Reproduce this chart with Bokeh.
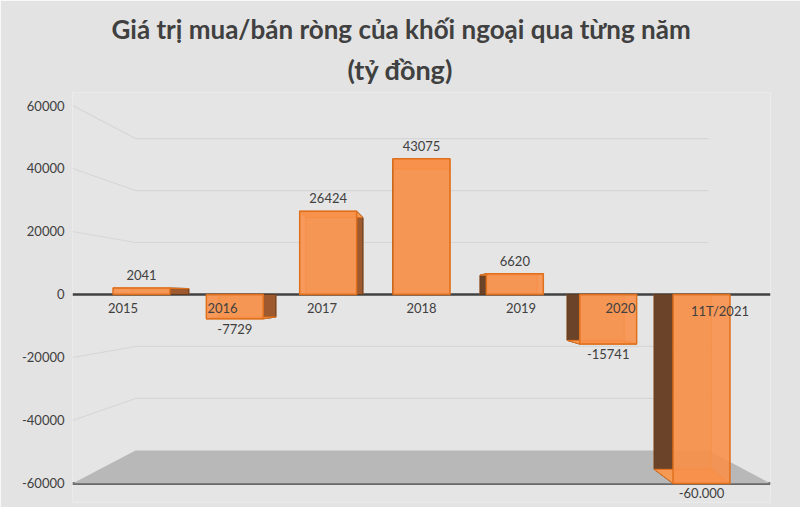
from bokeh.plotting import figure
from bokeh.models import ColumnDataSource, Range1d, Span, Title, FixedTicker, NumeralTickFormatter
from bokeh.core.properties import value
from bokeh.embed import file_html
from bokeh.resources import INLINE

categories = ["2015", "2016", "2017", "2018", "2019", "2020", "11T/2021"]
values = [2041, -7729, 26424, 43075, 6620, -15741, -60000]
value_labels = ["2041", "-7729", "26424", "43075", "6620", "-15741", "-60.000"]
y_ticks = [-60000, -40000, -20000, 0, 20000, 40000, 60000]
title_line1 = "Giá trị mua/bán ròng của khối ngoại qua từng năm"
title_line2 = "(tỷ đồng)"

FONT = "Lato"
TXT = "#404040"

n = len(categories)
idx = list(range(n))
mid = (n - 1) / 2
half_w = 0.305
depth_step = 0.0675
back_ratio = 0.925
wall_ratio = 0.825

X0, X1 = -0.739, 6.739
BACK_L, BACK_R = -0.064, 6.075
Y0, Y1 = -66032, 64127

p = figure(width=800, height=507, output_backend="svg", toolbar_location=None,
           x_range=Range1d(X0, X1), y_range=Range1d(Y0, Y1),
           min_border_left=72, min_border_right=30, min_border_bottom=5, min_border_top=92,
           background_fill_color="#e5e5e5", border_fill_color="#e3e3e3")
p.outline_line_color = None
p.xaxis.visible = False
p.xgrid.visible = False
p.ygrid.visible = False

ax = p.yaxis[0]
ax.ticker = FixedTicker(ticks=y_ticks)
ax.formatter = NumeralTickFormatter(format="0")
ax.axis_line_color = None
ax.major_tick_line_color = None
ax.minor_tick_line_color = None
ax.major_tick_out = 0
ax.major_tick_in = 0
ax.minor_tick_out = 0
ax.minor_tick_in = 0
ax.major_label_text_font = FONT
ax.major_label_text_font_size = "13px"
ax.major_label_text_color = TXT
ax.major_label_standoff = 8

p.add_layout(Title(text=title_line2, align="left", text_font=FONT, text_font_size="27px",
                   text_font_style="bold", text_color=TXT, standoff=13, offset=275), "above")
p.add_layout(Title(text=title_line1, align="left", text_font=FONT, text_font_size="26px",
                   text_font_style="bold", text_color=TXT, standoff=0, offset=39), "above")

# back wall gridlines (perspective)
grid_vals = [t for t in y_ticks if t != 0 and t != y_ticks[0]]
gxs = [[X0, BACK_L, BACK_R] for _ in grid_vals]
gys = [[t, t * wall_ratio, t * wall_ratio] for t in grid_vals]
p.multi_line(gxs, gys, line_color="#d6d6d6", line_width=1.2)

# floor
fmin = y_ticks[0]
p.patch([X0, BACK_L, BACK_R, X1], [fmin, fmin * wall_ratio, fmin * wall_ratio, fmin],
        fill_color="#b8b8b8", line_color=None)

p.add_layout(Span(location=0, dimension="width", line_color="#404040", line_width=2.5, level="underlay"))
p.add_layout(Span(location=fmin, dimension="width", line_color="#404040", line_width=2.5, level="underlay"))

# bars
left = [i - half_w for i in idx]
right = [i + half_w for i in idx]
off = [(mid - i) * depth_step for i in idx]
backv = [v * back_ratio for v in values]
src = ColumnDataSource(dict(x=idx, left=left, right=right, top=values, bottom=[0] * n,
                            bl=[l + o for l, o in zip(left, off)],
                            br=[r + o for r, o in zip(right, off)], bt=backv))
p.quad(left="bl", right="br", top="bt", bottom="bottom", source=src,
       fill_color="#f08a3e", fill_alpha=0.25, line_color="#e77b2c", line_width=1)

side_xs, side_ys, side_col = [], [], []
cap_xs, cap_ys = [], []
for i in idx:
    v, o, bv = values[i], off[i], backv[i]
    ex = right[i] if o > 0 else left[i]
    side_xs.append([ex, ex, ex + o, ex + o])
    side_ys.append([0, v, bv, 0])
    side_col.append("#9c5a2e" if o > 0 else "#6b4329")
    cap_xs.append([left[i], right[i], right[i] + o, left[i] + o])
    cap_ys.append([v, v, bv, bv])
p.patches(side_xs, side_ys, fill_color=side_col, line_color="#5e3a22", line_width=1)
p.patches(cap_xs, cap_ys, fill_color="#f59a55", line_color="#e0701c", line_width=1)
p.quad(left="left", right="right", top="top", bottom="bottom", source=src,
       fill_color="#f7904a", fill_alpha=0.9, line_color="#e0701c", line_width=1.5)

# data labels
pos = [v >= 0 for v in values]
lab_src = ColumnDataSource(dict(x=idx, y=values, t=value_labels,
                                base=["bottom" if q else "top" for q in pos],
                                yo=[-8 if q else 5 for q in pos]))
p.text(x="x", y="y", text="t", source=lab_src, text_align="center", text_baseline="base",
       y_offset="yo", text_font=value(FONT), text_font_size="13px", text_color=TXT)

# category labels on the zero line
cat_x = [i + (i - mid) * 0.066 for i in idx]
p.text(x=cat_x, y=[0] * n, text=categories, text_align="center", text_baseline="top",
       y_offset=9, text_font=value(FONT), text_font_size="13px", text_color=TXT)

open("out.html", "w").write(file_html(p, INLINE))
